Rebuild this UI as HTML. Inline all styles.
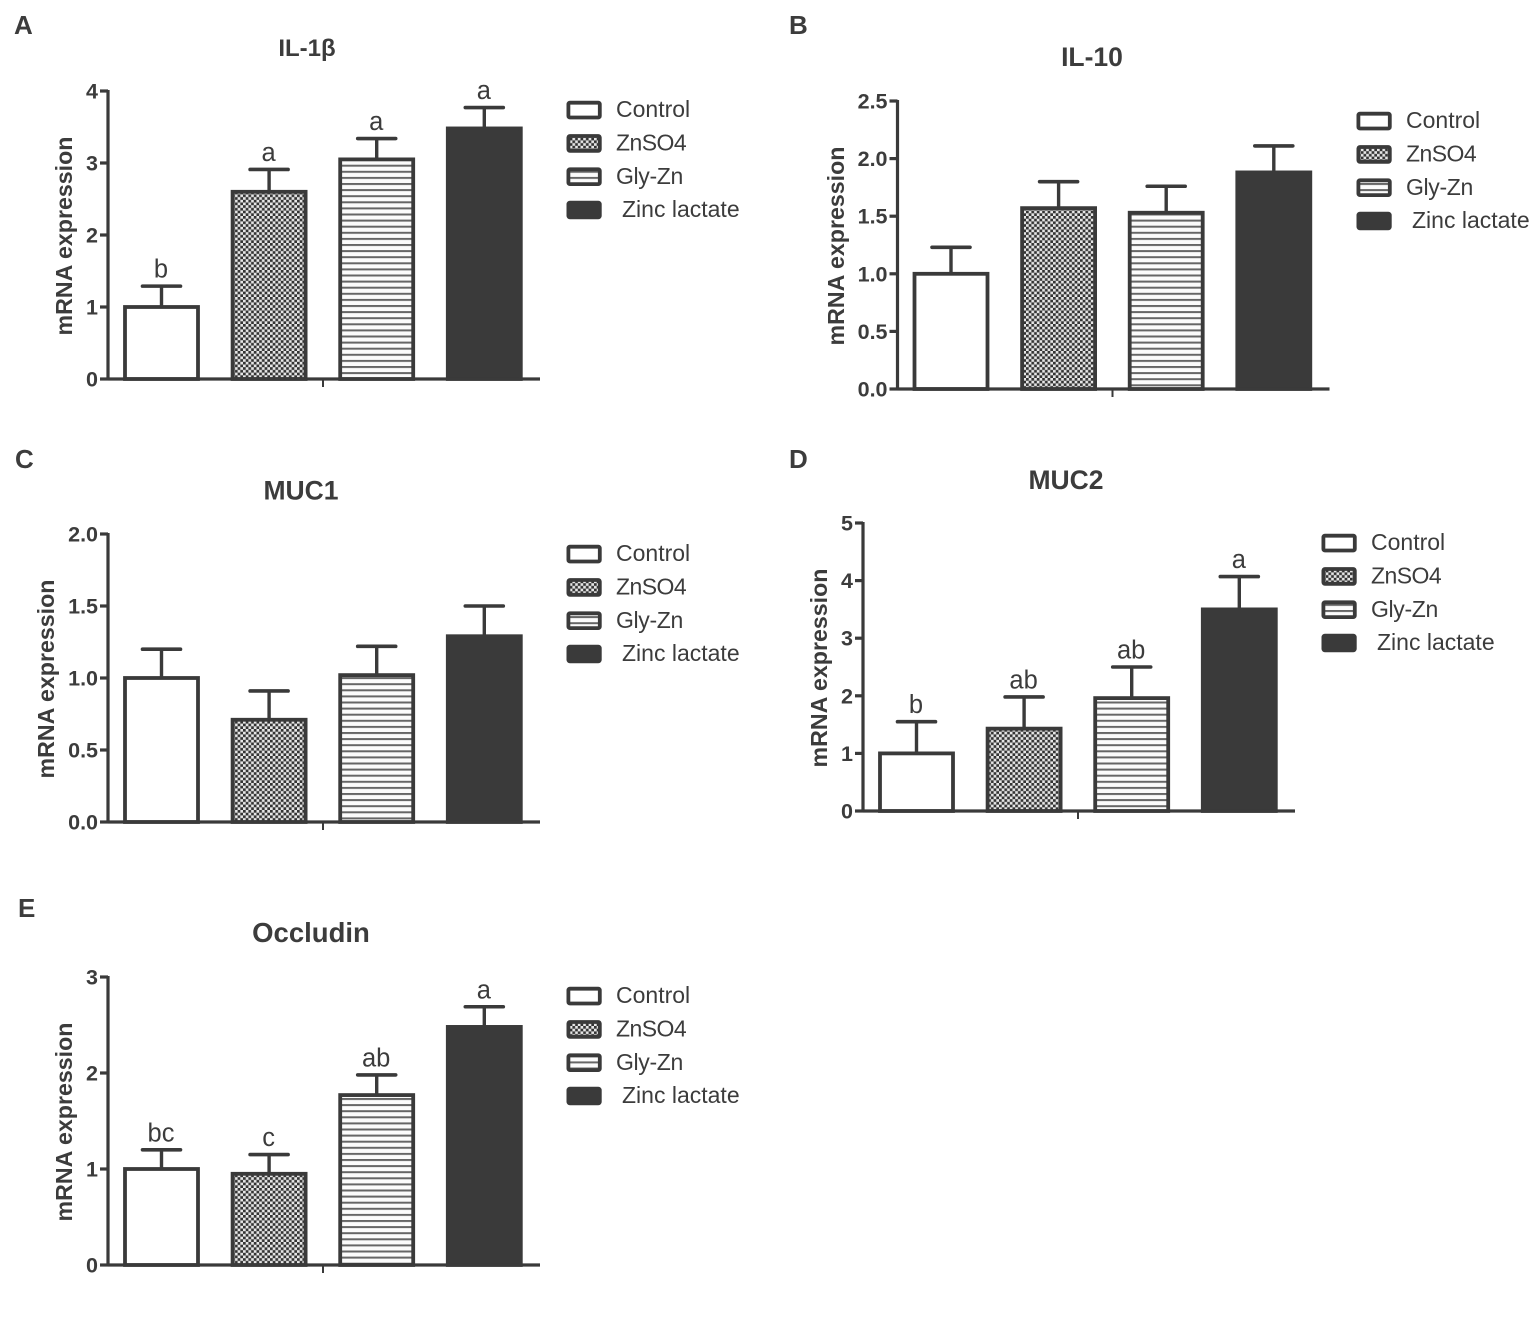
<!DOCTYPE html>
<html lang="en">
<head>
<meta charset="utf-8">
<title>mRNA expression by zinc source</title>
<style>
html,body{margin:0;padding:0;background:#fff;}
#stage{display:block;width:1535px;height:1342px;}
text{font-family:"Liberation Sans",Arial,sans-serif;fill:#3c3c3c;}
.bold{font-weight:bold;}
</style>
</head>
<body>
<svg id="stage" xmlns="http://www.w3.org/2000/svg" width="1535" height="1342" viewBox="0 0 1535 1342">
<defs>
<pattern id="pat-check" width="5.4" height="5.4" patternUnits="userSpaceOnUse">
<rect width="5.4" height="5.4" fill="#e6e6e6"/>
<rect x="0" y="0" width="2.7" height="2.7" fill="#333"/>
<rect x="2.7" y="2.7" width="2.7" height="2.7" fill="#333"/>
</pattern>
<pattern id="pat-lines" width="6.1" height="6.1" patternUnits="userSpaceOnUse">
<rect width="6.1" height="6.1" fill="#fbfbfb"/>
<rect x="0" y="0" width="6.1" height="2" fill="#666"/>
</pattern>
</defs>
<g id="root" style="filter:blur(0.35px)"></g>
</svg>
<script>
// Categories shared across panels
const categories = ["Control", "ZnSO4", "Gly-Zn", " Zinc lactate"];

// Panel A: IL-1β
const valuesA = [1.0, 2.6, 3.05, 3.48];
const errorTopsA = [1.29, 2.91, 3.34, 3.77];
const ticksA = ["0", "1", "2", "3", "4"];
const lettersA = ["b", "a", "a", "a"];

// Panel B: IL-10
const valuesB = [1.0, 1.57, 1.53, 1.88];
const errorTopsB = [1.23, 1.8, 1.76, 2.11];
const ticksB = ["0.0", "0.5", "1.0", "1.5", "2.0", "2.5"];
const lettersB = ["", "", "", ""];

// Panel C: MUC1
const valuesC = [1.0, 0.71, 1.02, 1.29];
const errorTopsC = [1.2, 0.91, 1.22, 1.5];
const ticksC = ["0.0", "0.5", "1.0", "1.5", "2.0"];
const lettersC = ["", "", "", ""];

// Panel D: MUC2
const valuesD = [1.0, 1.43, 1.96, 3.5];
const errorTopsD = [1.55, 1.98, 2.5, 4.07];
const ticksD = ["0", "1", "2", "3", "4", "5"];
const lettersD = ["b", "ab", "ab", "a"];

// Panel E: Occludin
const valuesE = [1.0, 0.95, 1.77, 2.48];
const errorTopsE = [1.2, 1.15, 1.98, 2.69];
const ticksE = ["0", "1", "2", "3"];
const lettersE = ["bc", "c", "ab", "a"];

const NS = "http://www.w3.org/2000/svg";
const root = document.getElementById("root");
const INK = "#3a3a3a";

function make(parent, tag, attrs, content) {
  const el = document.createElementNS(NS, tag);
  for (const k in attrs) el.setAttribute(k, attrs[k]);
  if (content !== undefined) el.textContent = content;
  parent.appendChild(el);
  return el;
}

const fills = ["#ffffff", "url(#pat-check)", "url(#pat-lines)", INK];
const swatchFills = ["#ffffff", "url(#pat-check)", "url(#pat-lines)", INK];
const legendSpacing = [0, -0.55, -0.35, 0];

function drawPanel(cfg) {
  const g = make(root, "g", {});
  
  

  const axisH = 288, axisW = 432, barW = 73, pitch = 107.6, firstBar = 17;
  const maxV = Number(cfg.ticks[cfg.ticks.length - 1]);
  const yScale = v => cfg.y0 - (v / maxV) * axisH;
  const xScale = i => cfg.x0 + firstBar + i * pitch;

  const letterEl = make(g, "text", {x: cfg.lx, y: cfg.ly, "font-size": 26, "class": "bold", fill: "#222"}, cfg.letter);
  
  

  const titleEl = make(g, "text", {x: cfg.tx, y: cfg.ty, "font-size": cfg.tsize, "class": "bold", "text-anchor": "middle"}, cfg.title);
  
  

  const yT = make(g, "text", {transform: "translate(" + cfg.ytx + "," + (cfg.y0 - 143) + ") rotate(-90)", "font-size": 23.2, "class": "bold", "text-anchor": "middle"}, "mRNA expression");
  
  

  // bars
  cfg.values.forEach((v, i) => {
    const x = xScale(i), top = yScale(v), cx = x + barW / 2, et = yScale(cfg.errorTops[i]);
    const stem = make(g, "line", {x1: cx, x2: cx, y1: top, y2: et, stroke: INK, "stroke-width": 3.4});
    
    
    const cap = make(g, "line", {x1: cx - 19, x2: cx + 19, y1: et, y2: et, stroke: INK, "stroke-width": 3.6, "stroke-linecap": "round"});
    
    
    const bar = make(g, "rect", {x: x, y: top, width: barW, height: cfg.y0 - top, fill: fills[i], stroke: INK, "stroke-width": 3.8});
    
    
    if (cfg.letters[i]) {
      const sig = make(g, "text", {x: cx - 0.5, y: et - 8.5, "font-size": 25.5, "text-anchor": "middle"}, cfg.letters[i]);
      
      
    }
  });

  // axes
  const yAxis = make(g, "line", {x1: cfg.x0, x2: cfg.x0, y1: cfg.y0 + 1.5, y2: cfg.y0 - axisH - 1, stroke: INK, "stroke-width": 3.2});
  
  
  const xAxis = make(g, "line", {x1: cfg.x0, x2: cfg.x0 + axisW, y1: cfg.y0, y2: cfg.y0, stroke: INK, "stroke-width": 3.2});
  
  
  const xTick = make(g, "line", {x1: cfg.x0 + 215, x2: cfg.x0 + 215, y1: cfg.y0, y2: cfg.y0 + 8, stroke: INK, "stroke-width": 2});
  
  

  cfg.ticks.forEach(t => {
    const y = yScale(Number(t));
    const tick = make(g, "line", {x1: cfg.x0 - 8, x2: cfg.x0, y1: y, y2: y, stroke: INK, "stroke-width": 3.2});
    
    
    const lab = make(g, "text", {x: cfg.x0 - 10, y: y + 7.5, "font-size": 21.5, "class": "bold", "text-anchor": "end"}, t);
    
    
  });

  // legend
  categories.forEach((c, i) => {
    const ry = cfg.legY + i * 33.3;
    const entry = make(g, "g", {});
    
    
    const sw = make(entry, "rect", {x: cfg.legX + 1.4, y: ry + 1.7, width: 31.4, height: 14.8, rx: 1.5, fill: swatchFills[i], stroke: INK, "stroke-width": 3.8});
    
    
    const label = c.trim();
    const tx = make(entry, "text", {x: cfg.legX + (c.startsWith(" ") ? 55 : 49), y: ry + 16.2, "font-size": 23, fill: "#444", "letter-spacing": legendSpacing[i]}, label);
    
    
  });
}

drawPanel({letter: "A", title: "IL-1β", tsize: 24, values: valuesA, errorTops: errorTopsA, ticks: ticksA, letters: lettersA,
  x0: 108, y0: 379, lx: 14, ly: 34, tx: 307, ty: 56, ytx: 72, legX: 567, legY: 101});
drawPanel({letter: "B", title: "IL-10", tsize: 26.5, values: valuesB, errorTops: errorTopsB, ticks: ticksB, letters: lettersB,
  x0: 897.5, y0: 389, lx: 789, ly: 34, tx: 1092, ty: 66, ytx: 844, legX: 1357, legY: 112});
drawPanel({letter: "C", title: "MUC1", tsize: 26.5, values: valuesC, errorTops: errorTopsC, ticks: ticksC, letters: lettersC,
  x0: 108, y0: 822, lx: 15, ly: 468, tx: 301, ty: 499.5, ytx: 54, legX: 567, legY: 545});
drawPanel({letter: "D", title: "MUC2", tsize: 26.5, values: valuesD, errorTops: errorTopsD, ticks: ticksD, letters: lettersD,
  x0: 863, y0: 811, lx: 789, ly: 468, tx: 1066, ty: 489, ytx: 827, legX: 1322, legY: 534});
drawPanel({letter: "E", title: "Occludin", tsize: 27.5, values: valuesE, errorTops: errorTopsE, ticks: ticksE, letters: lettersE,
  x0: 108, y0: 1265, lx: 18, ly: 917, tx: 311, ty: 942, ytx: 72, legX: 567, legY: 987});
</script>
</body>
</html>
